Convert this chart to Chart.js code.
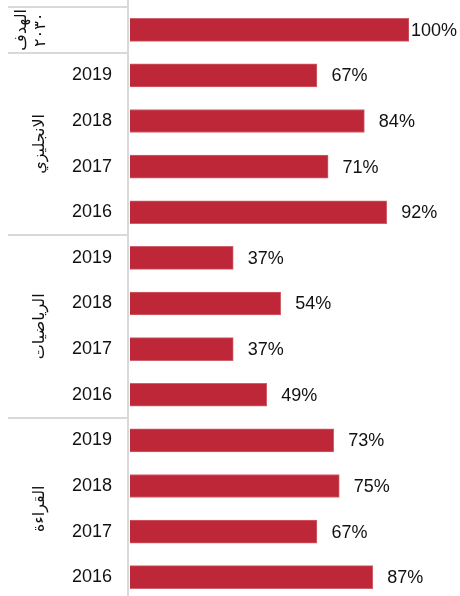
<!DOCTYPE html>
<html>
<head>
<meta charset="utf-8">
<script src="https://cdn.jsdelivr.net/npm/chart.js@4/dist/chart.umd.min.js"></script>
<style>
html,body{margin:0;padding:0;background:#fff;overflow:hidden;}
#wrap{width:460px;height:600px;}
</style>
</head>
<body>
<div id="wrap"><canvas id="c" width="460" height="600"></canvas></div>
<script>
// Row labels (years) shown on the category axis
const rowLabels = ['', '2019', '2018', '2017', '2016', '2019', '2018', '2017', '2016', '2019', '2018', '2017', '2016'];
// Percent values per row
const values = [100, 67, 84, 71, 92, 37, 54, 37, 49, 73, 75, 67, 87];
// Group names (subjects) and the rows they cover
const groupNames = [['الهدف', '٢٠٣٠'], ['الانجليزي'], ['الرياضيات'], ['القراءة']];
const groupStarts = [0, 1, 5, 9];
const groupEnds = [0, 4, 8, 12];

const BAR = '#be2737';
const GRID = '#d9d9d9';
const TEXT = '#111111';

const decor = {
  id: 'decor',
  afterDraw(chart) {
    const ctx = chart.ctx;
    const y = chart.scales.y;
    const pitch = y.getPixelForValue(1) - y.getPixelForValue(0);
    ctx.save();
    // vertical axis line
    ctx.fillStyle = GRID;
    ctx.fillRect(127, 0, 2, chart.height);
    // separators
    ctx.strokeStyle = GRID;
    ctx.lineWidth = 2;
    groupStarts.forEach(s => {
      const yy = Math.round(y.getPixelForValue(s) - pitch / 2);
      ctx.beginPath();
      ctx.moveTo(8, yy);
      ctx.lineTo(128, yy);
      ctx.stroke();
    });
    // group labels (rotated)
    ctx.fillStyle = TEXT;
    ctx.font = '16px "DejaVu Sans", "Liberation Sans", sans-serif';
    ctx.textAlign = 'center';
    ctx.textBaseline = 'middle';
    groupNames.forEach((lines, gi) => {
      const cy = (y.getPixelForValue(groupStarts[gi]) + y.getPixelForValue(groupEnds[gi])) / 2;
      const cx = lines.length > 1 ? 31 : 40;
      ctx.save();
      ctx.translate(cx, cy);
      ctx.rotate(-Math.PI / 2);
      const lh = 19;
      lines.forEach((t, li) => {
        const off = (li - (lines.length - 1) / 2) * lh;
        ctx.fillText(t, 0, off);
      });
      ctx.restore();
    });
    // value labels
    ctx.font = '18px "Liberation Sans", Arial, sans-serif';
    ctx.textAlign = 'left';
    ctx.textBaseline = 'middle';
    const meta = chart.getDatasetMeta(0);
    meta.data.forEach((bar, i) => {
      const txt = values[i] + '%';
      const w = ctx.measureText(txt).width;
      let tx = bar.x + 14.5;
      if (tx + w > 457) tx = 457 - w;
      ctx.fillText(txt, tx, bar.y + 1);
    });
    ctx.restore();
  }
};

new Chart(document.getElementById('c'), {
  type: 'bar',
  data: {
    labels: rowLabels,
    datasets: [{
      data: values,
      backgroundColor: BAR,
      borderColor: '#d0606b',
      borderWidth: 1,
      borderSkipped: 'left',
      barThickness: 23
    }]
  },
  options: {
    indexAxis: 'y',
    responsive: false,
    animation: false,
    devicePixelRatio: 1,
    layout: { padding: { top: 7, right: 51, bottom: 0, left: 0 } },
    plugins: { legend: { display: false }, tooltip: { enabled: false } },
    scales: {
      x: { display: false, min: 0, max: 100 },
      y: {
        grid: { display: false, drawTicks: false },
        border: { display: false },
        ticks: {
          color: TEXT,
          padding: 18,
          font: { family: '"Liberation Sans", Arial, sans-serif', size: 18 }
        },
        afterFit(scale) {
          scale.width = 130;
          scale.paddingTop = 0;
          scale.paddingBottom = 0;
        }
      }
    }
  },
  plugins: [decor]
});
</script>
</body>
</html>
